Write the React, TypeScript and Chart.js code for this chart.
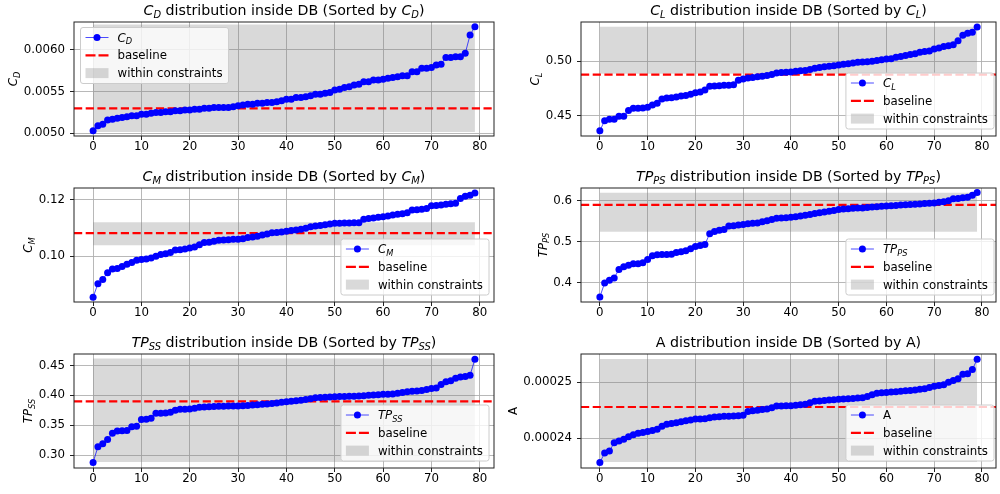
import React, { useEffect, useRef } from "react";
import { Chart, registerables } from "chart.js";
Chart.register(...registerables);

const FONT = '"DejaVu Sans", sans-serif';
const FS = 11.8;
const TITLE_FS = 14.2;

const xTicks = [0, 10, 20, 30, 40, 50, 60, 70, 80];
const X_MIN = -3.95;
const X_MAX = 82.95;

const cdValues = [
  0.00503, 0.00509, 0.00511, 0.00516, 0.00517, 0.00518, 0.00519, 0.0052, 0.00521, 0.00521,
  0.00523, 0.00523, 0.00524, 0.00525, 0.00525, 0.00526, 0.00526, 0.00527, 0.00527, 0.00528,
  0.00528, 0.00529, 0.00529, 0.0053, 0.0053, 0.00531, 0.00531, 0.00531, 0.00531, 0.00532,
  0.00533, 0.00534, 0.00535, 0.00535, 0.00536, 0.00536, 0.00537, 0.00537, 0.00538, 0.00539,
  0.00541, 0.00541, 0.00543, 0.00543, 0.00544, 0.00545, 0.00547, 0.00547, 0.00548, 0.00549,
  0.00552, 0.00553, 0.00555, 0.00556, 0.00558, 0.00559, 0.00562, 0.00562, 0.00564, 0.00564,
  0.00565, 0.00566, 0.00567, 0.00568, 0.00569, 0.00569, 0.00574, 0.00574, 0.00578, 0.00578,
  0.00579, 0.00582, 0.00583, 0.00591, 0.00591, 0.00592, 0.00592, 0.00596, 0.00618, 0.00628,
];
const clValues = [
  0.4366, 0.4457, 0.447, 0.447, 0.4497, 0.4497, 0.4549, 0.457, 0.457, 0.4573,
  0.4579, 0.46, 0.4616, 0.4655, 0.4664, 0.4667, 0.4673, 0.4682, 0.4688, 0.4698,
  0.4713, 0.4719, 0.4738, 0.4771, 0.4774, 0.4777, 0.478, 0.478, 0.4786, 0.4826,
  0.4838, 0.4846, 0.4852, 0.4858, 0.4864, 0.4871, 0.488, 0.4893, 0.4897, 0.4899,
  0.4902, 0.4908, 0.4913, 0.4916, 0.4925, 0.4936, 0.4943, 0.4949, 0.4955, 0.496,
  0.4966, 0.4972, 0.4977, 0.4984, 0.4992, 0.4994, 0.4996, 0.5001, 0.5008, 0.5015,
  0.5021, 0.5024, 0.5036, 0.5043, 0.5052, 0.5061, 0.5069, 0.5082, 0.509, 0.5095,
  0.5112, 0.5122, 0.5134, 0.5142, 0.5152, 0.5188, 0.5238, 0.5256, 0.5265, 0.5313,
];
const cmValues = [
  0.0854, 0.0902, 0.0917, 0.0941, 0.0954, 0.0956, 0.0963, 0.0971, 0.0977, 0.0985,
  0.0988, 0.0989, 0.0993, 0.0999, 0.1005, 0.1008, 0.1012, 0.1021, 0.1022, 0.1025,
  0.1028, 0.1032, 0.104, 0.1048, 0.1049, 0.1052, 0.1056, 0.1057, 0.1058, 0.1059,
  0.1059, 0.1061, 0.1066, 0.1067, 0.107, 0.1074, 0.1078, 0.1082, 0.1083, 0.1085,
  0.1088, 0.109, 0.1092, 0.1095, 0.1098, 0.1104, 0.1106, 0.1108, 0.1111, 0.1113,
  0.1116, 0.1116, 0.1117, 0.1117, 0.1118, 0.1118, 0.113, 0.1133, 0.1135, 0.1137,
  0.1139, 0.1142, 0.1145, 0.1148, 0.115, 0.1153, 0.1163, 0.1164, 0.1166, 0.1168,
  0.1178, 0.1179, 0.1181, 0.1183, 0.1185, 0.1187, 0.1204, 0.1212, 0.1215, 0.1223,
];
const tppsValues = [
  0.3648, 0.3992, 0.4058, 0.4115, 0.4321, 0.4385, 0.4426, 0.4459, 0.446, 0.4484,
  0.4566, 0.4656, 0.468, 0.4689, 0.469, 0.4697, 0.4738, 0.4754, 0.4779, 0.4828,
  0.4885, 0.491, 0.4934, 0.5197, 0.5254, 0.5279, 0.5303, 0.5386, 0.5394, 0.541,
  0.5425, 0.544, 0.545, 0.546, 0.549, 0.5516, 0.5545, 0.5574, 0.5582, 0.559,
  0.5598, 0.5615, 0.5632, 0.565, 0.567, 0.5689, 0.571, 0.573, 0.5747, 0.5765,
  0.5787, 0.58, 0.581, 0.582, 0.5825, 0.5828, 0.584, 0.585, 0.586, 0.587,
  0.5878, 0.5884, 0.589, 0.5897, 0.5903, 0.591, 0.5918, 0.5926, 0.5935, 0.5943,
  0.5951, 0.5965, 0.598, 0.6001, 0.605, 0.606, 0.6075, 0.6091, 0.614, 0.6205,
];
const tpssValues = [
  0.288, 0.3141, 0.3191, 0.3262, 0.3369, 0.3407, 0.3408, 0.3413, 0.3478, 0.3484,
  0.3595, 0.36, 0.3617, 0.3701, 0.3702, 0.3706, 0.3717, 0.3751, 0.3767, 0.3768,
  0.3773, 0.3784, 0.3801, 0.3806, 0.3812, 0.3813, 0.3817, 0.382, 0.3822, 0.3823,
  0.3824, 0.3828, 0.3832, 0.3838, 0.3844, 0.385, 0.3858, 0.3866, 0.3873, 0.3884,
  0.3894, 0.3902, 0.391, 0.3917, 0.393, 0.3944, 0.3961, 0.3966, 0.397, 0.3974,
  0.3978, 0.398, 0.3983, 0.3985, 0.3987, 0.3989, 0.3995, 0.4, 0.4005, 0.4011,
  0.4017, 0.402, 0.4022, 0.4035, 0.4048, 0.4061, 0.4068, 0.4075, 0.4083, 0.41,
  0.4116, 0.4122, 0.4183, 0.4226, 0.4243, 0.4288, 0.4305, 0.4316, 0.4337, 0.4603,
];
const aValues = [
  0.00023567, 0.00023734, 0.00023769, 0.00023917, 0.00023947, 0.00023982, 0.00024023, 0.00024059, 0.00024089, 0.000241,
  0.00024117, 0.00024135, 0.0002416, 0.00024213, 0.00024249, 0.0002426, 0.00024277, 0.00024295, 0.00024313, 0.00024325,
  0.00024343, 0.00024344, 0.00024345, 0.00024366, 0.00024378, 0.00024384, 0.00024391, 0.00024393, 0.00024396, 0.00024398,
  0.00024408, 0.00024477, 0.00024489, 0.000245, 0.0002451, 0.0002452, 0.00024545, 0.00024574, 0.00024576, 0.00024578,
  0.00024579, 0.00024588, 0.00024596, 0.00024604, 0.00024633, 0.00024657, 0.00024665, 0.00024672, 0.0002468, 0.00024687,
  0.00024693, 0.00024699, 0.00024705, 0.0002471, 0.00024716, 0.00024721, 0.00024745, 0.00024774, 0.00024804, 0.0002481,
  0.00024816, 0.00024823, 0.0002483, 0.00024838, 0.00024845, 0.00024852, 0.00024862, 0.00024872, 0.00024882, 0.00024905,
  0.00024929, 0.00024941, 0.00024953, 0.00025, 0.0002503, 0.00025059, 0.00025142, 0.0002515, 0.00025225, 0.00025408,
];

// baselines and constraint bands
const baselines = { cd: 0.0053, cl: 0.4878, cm: 0.1081, tpps: 0.5902, tpss: 0.39, a: 0.00024556 };
const bandLower = { cd: 0.005015, cl: 0.4885, cm: 0.1038, tpps: 0.5246, tpss: 0.2887, a: 0.00023574 };
const bandUpper = { cd: 0.006305, cl: 0.5316, cm: 0.112, tpps: 0.6197, tpss: 0.4615, a: 0.00025414 };

// y tick values
const cdTicks = [0.005, 0.0055, 0.006];
const clTicks = [0.45, 0.5];
const cmTicks = [0.1, 0.12];
const tppsTicks = [0.4, 0.5, 0.6];
const tpssTicks = [0.3, 0.35, 0.4, 0.45];
const aTicks = [0.00024, 0.00025];

// y axis limits
const cdLimits = [0.004968, 0.006336];
const clLimits = [0.4317, 0.5359];
const cmLimits = [0.0837, 0.1241];
const tppsLimits = [0.3525, 0.6316];
const tpssLimits = [0.2787, 0.4691];
const aLimits = [0.00023467, 0.00025503];

type Part = { t: string; it?: boolean; sub?: boolean };
const sym = (m: string, s: string): Part[] => [
  { t: m, it: true },
  { t: s, it: true, sub: true },
];
const plain = (t: string): Part[] => [{ t }];
const titleOf = (s: Part[]): Part[] => [
  ...s,
  { t: " distribution inside DB (Sorted by " },
  ...s,
  { t: ")" },
];

function setFont(ctx: CanvasRenderingContext2D, p: Part, size: number) {
  const s = p.sub ? size * 0.7 : size;
  ctx.font = `${p.it ? "italic " : ""}${s}px ${FONT}`;
}
function partsWidth(ctx: CanvasRenderingContext2D, parts: Part[], size: number) {
  let w = 0;
  for (const p of parts) {
    setFont(ctx, p, size);
    w += ctx.measureText(p.t).width;
  }
  return w;
}
function drawParts(ctx: CanvasRenderingContext2D, parts: Part[], x: number, y: number, size: number) {
  ctx.textBaseline = "alphabetic";
  ctx.textAlign = "left";
  for (const p of parts) {
    setFont(ctx, p, size);
    ctx.fillText(p.t, x, y + (p.sub ? size * 0.22 : 0));
    x += ctx.measureText(p.t).width;
  }
}

interface Spec {
  values: number[];
  baseline: number;
  lower: number;
  upper: number;
  limits: number[];
  yTicks: number[];
  decimals: number;
  label: Part[];
  title: Part[];
  legendPos: "ul" | "lr";
  left: number;
  top: number;
  w: number;
  h: number;
  yAxisW: number;
  padTop: number;
  padRight: number;
  legRight: number;
  xAxisH: number;
}

const colL = { left: 0, w: 500, yAxisW: 74, padRight: 6, legRight: 5.5 };
const colR = { left: 500, w: 500, yAxisW: 81, padRight: 1, legRight: 2.5 };
const row1 = { top: 0, h: 165, padTop: 22, xAxisH: 29 };
const row2 = { top: 165, h: 165, padTop: 23, xAxisH: 28 };
const row3 = { top: 330, h: 164, padTop: 24, xAxisH: 26 };

const specs: Spec[] = [
  { values: cdValues, baseline: baselines.cd, lower: bandLower.cd, upper: bandUpper.cd, limits: cdLimits, yTicks: cdTicks, decimals: 4, label: sym("C", "D"), title: titleOf(sym("C", "D")), legendPos: "ul", ...colL, ...row1 },
  { values: clValues, baseline: baselines.cl, lower: bandLower.cl, upper: bandUpper.cl, limits: clLimits, yTicks: clTicks, decimals: 2, label: sym("C", "L"), title: titleOf(sym("C", "L")), legendPos: "lr", ...colR, ...row1 },
  { values: cmValues, baseline: baselines.cm, lower: bandLower.cm, upper: bandUpper.cm, limits: cmLimits, yTicks: cmTicks, decimals: 2, label: sym("C", "M"), title: titleOf(sym("C", "M")), legendPos: "lr", ...colL, ...row2 },
  { values: tppsValues, baseline: baselines.tpps, lower: bandLower.tpps, upper: bandUpper.tpps, limits: tppsLimits, yTicks: tppsTicks, decimals: 1, label: sym("TP", "PS"), title: titleOf(sym("TP", "PS")), legendPos: "lr", ...colR, ...row2 },
  { values: tpssValues, baseline: baselines.tpss, lower: bandLower.tpss, upper: bandUpper.tpss, limits: tpssLimits, yTicks: tpssTicks, decimals: 2, label: sym("TP", "SS"), title: titleOf(sym("TP", "SS")), legendPos: "lr", ...colL, ...row3 },
  { values: aValues, baseline: baselines.a, lower: bandLower.a, upper: bandUpper.a, limits: aLimits, yTicks: aTicks, decimals: 5, label: plain("A"), title: plain("A distribution inside DB (Sorted by A)"), legendPos: "lr", ...colR, ...row3 },
];

const LINE_COLOR = "rgba(0,0,255,0.7)";
const POINT_COLOR = "#0000ff";
const BASE_COLOR = "#ff0000";
const BAND_COLOR = "rgba(128,128,128,0.3)";
const GRID_COLOR = "#b0b0b0";
const SPINE_COLOR = "#222222";

function Panel({ spec }: { spec: Spec }) {
  const ref = useRef<HTMLCanvasElement>(null);
  useEffect(() => {
    const idx = spec.values.map((_, i) => i);
    const first = idx[0];
    const last = idx[idx.length - 1];
    const deco = {
      id: "deco",
      afterDraw(chart: any) {
        const ctx: CanvasRenderingContext2D = chart.ctx;
        const ca = chart.chartArea;
        ctx.save();
        // spines
        ctx.strokeStyle = SPINE_COLOR;
        ctx.lineWidth = 1;
        ctx.strokeRect(ca.left, ca.top, ca.right - ca.left, ca.bottom - ca.top);
        ctx.fillStyle = "#000";
        // title
        const tw = partsWidth(ctx, spec.title, TITLE_FS);
        drawParts(ctx, spec.title, (ca.left + ca.right) / 2 - tw / 2, ca.top - 7.5, TITLE_FS);
        // y label
        ctx.font = `${FS}px ${FONT}`;
        let maxTW = 0;
        for (const v of spec.yTicks) maxTW = Math.max(maxTW, ctx.measureText(v.toFixed(spec.decimals)).width);
        const lx = ca.left - 9 - maxTW - 6.5;
        const lw = partsWidth(ctx, spec.label, FS);
        ctx.save();
        ctx.translate(lx, (ca.top + ca.bottom) / 2);
        ctx.rotate(-Math.PI / 2);
        drawParts(ctx, spec.label, -lw / 2, 0, FS);
        ctx.restore();
        // legend
        const labels: Part[][] = [spec.label, plain("baseline"), plain("within constraints")];
        let maxLW = 0;
        for (const l of labels) maxLW = Math.max(maxLW, partsWidth(ctx, l, FS));
        const pad = 5.5;
        const hl = 23;
        const tp = 9;
        const bw = pad + hl + tp + maxLW + pad;
        const bh = 56;
        let bx: number, by: number;
        if (spec.legendPos === "ul") {
          bx = ca.left + 6;
          by = ca.top + 5;
        } else {
          bx = ca.right - spec.legRight - bw;
          by = ca.bottom - 7.5 - bh;
        }
        ctx.beginPath();
        (ctx as any).roundRect(bx + 0.5, by + 0.5, bw, bh, 2.5);
        ctx.fillStyle = "rgba(255,255,255,0.8)";
        ctx.fill();
        ctx.strokeStyle = "#cccccc";
        ctx.lineWidth = 1;
        ctx.stroke();
        const hx = bx + pad;
        for (let k = 0; k < 3; k++) {
          const cy = by + 10.5 + k * 17.8;
          if (k === 0) {
            ctx.strokeStyle = LINE_COLOR;
            ctx.lineWidth = 1;
            ctx.setLineDash([]);
            ctx.beginPath();
            ctx.moveTo(hx, cy);
            ctx.lineTo(hx + hl, cy);
            ctx.stroke();
            ctx.fillStyle = POINT_COLOR;
            ctx.beginPath();
            ctx.arc(hx + hl / 2, cy, 3.5, 0, Math.PI * 2);
            ctx.fill();
          } else if (k === 1) {
            ctx.strokeStyle = BASE_COLOR;
            ctx.lineWidth = 2.2;
            ctx.setLineDash([10, 3]);
            ctx.beginPath();
            ctx.moveTo(hx, cy);
            ctx.lineTo(hx + hl, cy);
            ctx.stroke();
            ctx.setLineDash([]);
          } else {
            ctx.fillStyle = BAND_COLOR;
            ctx.fillRect(hx, cy - 5, hl, 10);
          }
          ctx.fillStyle = "#000";
          drawParts(ctx, labels[k], hx + hl + tp, cy + 4, FS);
        }
        ctx.restore();
      },
    };
    const tickFont = { family: FONT, size: FS };
    const chart = new Chart(ref.current as HTMLCanvasElement, {
      type: "line",
      data: {
        datasets: [
          {
            label: "series",
            data: spec.values.map((v, i) => ({ x: idx[i], y: v })),
            borderColor: LINE_COLOR,
            borderWidth: 1,
            pointRadius: 3.5,
            pointBackgroundColor: POINT_COLOR,
            pointBorderColor: POINT_COLOR,
            pointBorderWidth: 0,
            tension: 0,
            fill: false,
            order: 0,
          },
          {
            label: "baseline",
            data: [
              { x: X_MIN, y: spec.baseline },
              { x: X_MAX, y: spec.baseline },
            ],
            borderColor: BASE_COLOR,
            borderWidth: 2.2,
            borderDash: [8.2, 3.5],
            pointRadius: 0,
            fill: false,
            order: 1,
          },
          {
            label: "lower",
            data: [
              { x: first, y: spec.lower },
              { x: last, y: spec.lower },
            ],
            borderWidth: 0,
            borderColor: "rgba(0,0,0,0)",
            pointRadius: 0,
            fill: false,
            order: 2,
          },
          {
            label: "upper",
            data: [
              { x: first, y: spec.upper },
              { x: last, y: spec.upper },
            ],
            borderWidth: 0,
            borderColor: "rgba(0,0,0,0)",
            backgroundColor: BAND_COLOR,
            pointRadius: 0,
            fill: "-1",
            order: 2,
          },
        ],
      },
      options: {
        animation: false,
        responsive: false,
        devicePixelRatio: 1,
        events: [],
        layout: { padding: { top: spec.padTop, right: spec.padRight, left: 0, bottom: 0 } },
        plugins: { legend: { display: false }, tooltip: { enabled: false }, title: { display: false } },
        scales: {
          x: {
            type: "linear",
            min: X_MIN,
            max: X_MAX,
            afterBuildTicks: (s: any) => {
              s.ticks = xTicks.map((v) => ({ value: v }));
            },
            afterFit: (s: any) => {
              s.height = spec.xAxisH;
            },
            ticks: { font: tickFont, color: "#000", padding: 0, maxRotation: 0, autoSkip: false, callback: (v: any) => String(v) },
            grid: { color: GRID_COLOR, lineWidth: 0.9, drawTicks: true, tickLength: 4, tickColor: SPINE_COLOR, tickWidth: 1 },
            border: { display: false },
          },
          y: {
            type: "linear",
            min: spec.limits[0],
            max: spec.limits[1],
            afterBuildTicks: (s: any) => {
              s.ticks = spec.yTicks.map((v) => ({ value: v }));
            },
            afterFit: (s: any) => {
              s.width = spec.yAxisW;
            },
            ticks: { font: tickFont, color: "#000", padding: 5, autoSkip: false, callback: (v: any) => Number(v).toFixed(spec.decimals) },
            grid: { color: GRID_COLOR, lineWidth: 0.9, drawTicks: true, tickLength: 4, tickColor: SPINE_COLOR, tickWidth: 1 },
            border: { display: false },
          },
        },
      } as any,
      plugins: [deco],
    });
    return () => chart.destroy();
  }, [spec]);
  return (
    <div style={{ position: "absolute", left: spec.left, top: spec.top, width: spec.w, height: spec.h }}>
      <canvas ref={ref} width={spec.w} height={spec.h} style={{ display: "block", width: spec.w, height: spec.h }} />
    </div>
  );
}

export default function App() {
  return (
    <div style={{ position: "absolute", left: 0, top: 0, width: 1000, height: 494, background: "#fff", overflow: "hidden" }}>
      {specs.map((s, i) => (
        <Panel key={i} spec={s} />
      ))}
    </div>
  );
}
